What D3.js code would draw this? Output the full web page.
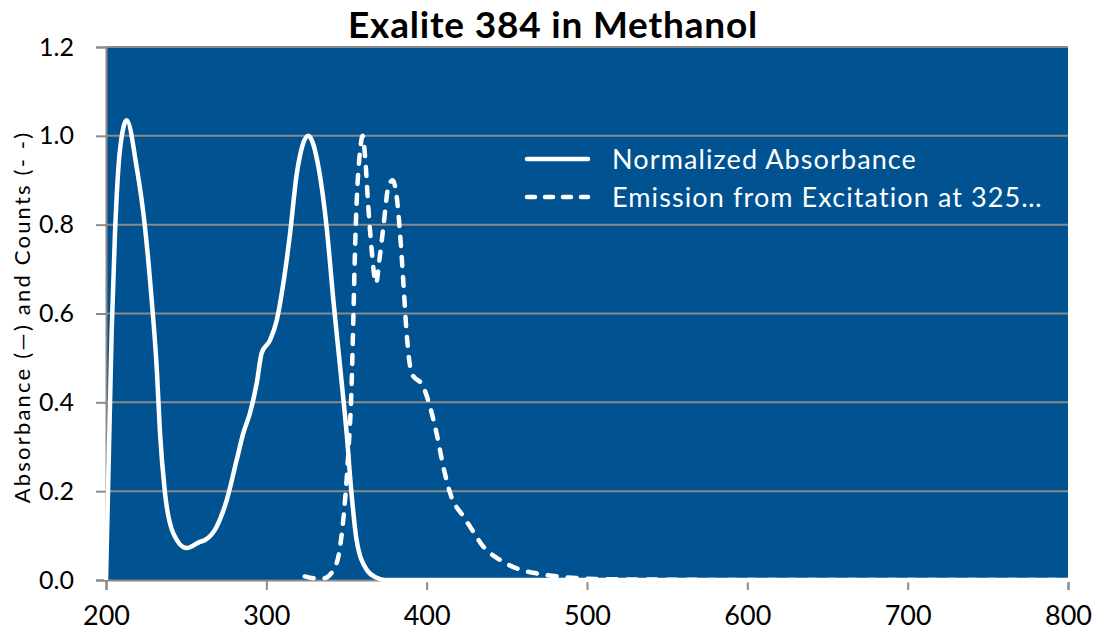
<!DOCTYPE html>
<html>
<head>
<meta charset="utf-8">
<script src="https://cdn.jsdelivr.net/npm/d3@7"></script>
<style>
  body { margin: 0; background: #fff; }
  text { font-family: Lato, "Open Sans", sans-serif; fill: #000; }
</style>
</head>
<body>
<div id="chart"></div>
<script>
// wavelength (nm) and normalized absorbance
var absWl  = [200, 203.5, 205.6, 208.7, 212.9, 219.1, 224.3, 228.5, 231.6, 233.7, 236.8, 242, 250.3, 258.6, 261.8, 269, 275.3, 281.5, 285.6, 289.8, 294, 297.1, 302.3, 306.5, 310.6, 314.8, 319, 326.2, 332.5, 337.6, 341.8, 346, 350.1, 353, 356.3, 362.6, 368.8, 374, 420, 600, 800];
var absVal = [0, 0.556, 0.78, 0.968, 1.035, 0.93, 0.795, 0.63, 0.48, 0.33, 0.196, 0.105, 0.072, 0.086, 0.09, 0.12, 0.18, 0.27, 0.33, 0.376, 0.443, 0.511, 0.54, 0.585, 0.668, 0.78, 0.915, 1.0, 0.93, 0.795, 0.63, 0.48, 0.33, 0.2, 0.09, 0.023, 0.005, 0, 0, 0, 0];

// emission counts (excitation at 325 nm)
var emWl  = [324, 330, 335.6, 341.8, 346, 349.1, 351.2, 353.2, 354.3, 355.3, 356.4, 358.5, 360.1, 361.6, 363.6, 365.7, 368.4, 370.5, 373, 376.1, 378.8, 381.3, 383.4, 385.5, 387.5, 390.6, 397.9, 402.1, 406.2, 410.4, 414.6, 422.9, 427.1, 435.4, 445.8, 456.2, 470.8, 487.4, 510, 540, 600, 700, 800];
var emVal = [0.008, 0.004, 0.004, 0.022, 0.075, 0.18, 0.29, 0.44, 0.593, 0.743, 0.855, 0.968, 1.0, 0.953, 0.84, 0.743, 0.668, 0.72, 0.795, 0.885, 0.9, 0.863, 0.78, 0.668, 0.556, 0.466, 0.435, 0.39, 0.33, 0.255, 0.196, 0.143, 0.12, 0.075, 0.045, 0.026, 0.0135, 0.006, 0.002, 0.001, 0, 0, 0];

var xTicks = [200, 300, 400, 500, 600, 700, 800];
var yTicks = [0, 0.2, 0.4, 0.6, 0.8, 1.0, 1.2];
var seriesNames = ["Normalized Absorbance", "Emission from Excitation at 325\u2026"];

var margin = {top: 47, right: 30, bottom: 57, left: 106},
    width = 1098 - margin.left - margin.right,
    height = 637 - margin.top - margin.bottom;

var svg = d3.select("#chart")
  .append("svg")
    .attr("width", 1098)
    .attr("height", 637)
  .append("g")
    .attr("transform", "translate(" + margin.left + "," + margin.top + ")");

var x = d3.scaleLinear().domain([200, 800]).range([0, width]);
var y = d3.scaleLinear().domain([0, 1.2]).range([height, 0]);

// plot area
svg.append("rect")
  .attr("width", width)
  .attr("height", height)
  .attr("fill", "#005291");

// gridlines
svg.append("g")
  .selectAll("line")
  .data(yTicks.filter(function(d) { return d > 0; }))
  .enter().append("line")
    .attr("x1", 0).attr("x2", width)
    .attr("y1", function(d) { return y(d); })
    .attr("y2", function(d) { return y(d); })
    .attr("stroke", "#8a8a8a")
    .attr("stroke-width", 2);

// Y axis
var yAxis = svg.append("g")
  .call(d3.axisLeft(y).tickValues(yTicks).tickSize(10).tickPadding(22)
    .tickFormat(d3.format(".1f")));
yAxis.selectAll("text").style("font-size", "25px");

// X axis
var xAxis = svg.append("g")
  .attr("transform", "translate(0," + height + ")")
  .call(d3.axisBottom(x).tickValues(xTicks).tickSize(10).tickPadding(16)
    .tickFormat(d3.format("d")));
xAxis.selectAll("text").style("font-size", "27px");

[yAxis, xAxis].forEach(function(a) {
  a.select(".domain").attr("stroke", "#8a8a8a").attr("stroke-width", 2);
  a.selectAll(".tick line").attr("stroke", "#8a8a8a").attr("stroke-width", 2);
});

var line = d3.line()
  .x(function(d) { return x(d[0]); })
  .y(function(d) { return y(d[1]); })
  .curve(d3.curveMonotoneX);

// series drawn over the axes (the zero tails hide the bottom axis line)
svg.append("path")
  .datum(d3.zip(absWl, absVal))
  .attr("d", line)
  .attr("fill", "none")
  .attr("stroke", "#fff")
  .attr("stroke-width", 4.5);

svg.append("path")
  .datum(d3.zip(emWl, emVal))
  .attr("d", line)
  .attr("fill", "none")
  .attr("stroke", "#fff")
  .attr("stroke-width", 4.5)
  .attr("stroke-linecap", "round")
  .attr("stroke-dasharray", "9,11");

// legend
var legend = svg.append("g").attr("transform", "translate(419,112)");
seriesNames.forEach(function(name, i) {
  var g = legend.append("g").attr("transform", "translate(0," + (i * 38) + ")");
  g.append("line")
    .attr("x1", 2).attr("x2", 63)
    .attr("stroke", "#fff")
    .attr("stroke-width", 4.5)
    .attr("stroke-linecap", "round")
    .attr("stroke-dasharray", i === 0 ? null : "8,10");
  g.append("text")
    .attr("x", 87)
    .attr("y", 10)
    .style("font-size", "27px")
    .style("letter-spacing", "1.1px")
    .style("fill", "#fff")
    .text(name);
});

// title
svg.append("text")
  .attr("x", 553 - margin.left)
  .attr("y", -9)
  .attr("text-anchor", "middle")
  .style("font-size", "37px")
  .style("font-weight", "bold")
  .style("letter-spacing", "0.8px")
  .text("Exalite 384 in Methanol");

// Y axis label
svg.append("text")
  .attr("transform", "rotate(-90)")
  .attr("x", -(317 - margin.top))
  .attr("y", -margin.left + 30)
  .attr("text-anchor", "middle")
  .style("font-size", "22px")
  .style("letter-spacing", "2.2px")
  .text("Absorbance (\u2014) and Counts (- -)");
</script>
</body>
</html>
